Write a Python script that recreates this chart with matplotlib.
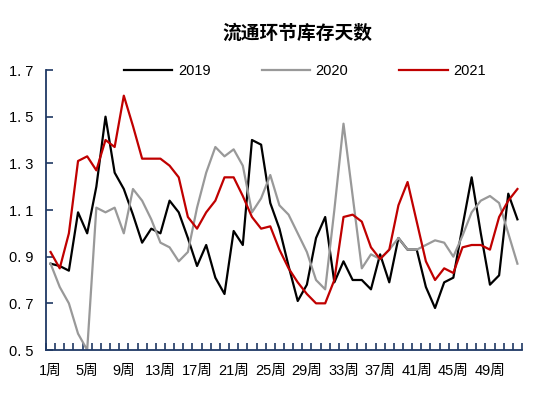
import matplotlib
matplotlib.use("Agg")
import matplotlib.pyplot as plt
import numpy as np

plt.rcParams['font.family'] = ['Liberation Sans', 'Noto Sans CJK SC', 'DejaVu Sans']

title = '流通环节库存天数'
weeks = np.arange(1, 53)

s2019 = [0.87, 0.86, 0.84, 1.09, 1.00, 1.20, 1.50, 1.26, 1.19, 1.08,
         0.96, 1.02, 1.00, 1.14, 1.09, 0.98, 0.86, 0.95, 0.81, 0.74,
         1.01, 0.95, 1.40, 1.38, 1.13, 1.02, 0.86, 0.71, 0.78, 0.98,
         1.07, 0.79, 0.88, 0.80, 0.80, 0.76, 0.91, 0.79, 0.98, 0.93,
         0.93, 0.77, 0.68, 0.79, 0.81, 1.03, 1.24, 1.00, 0.78, 0.82,
         1.17, 1.06]
s2020 = [0.87, 0.77, 0.70, 0.57, 0.50, 1.11, 1.09, 1.11, 1.00, 1.19,
         1.14, 1.06, 0.96, 0.94, 0.88, 0.92, 1.11, 1.26, 1.37, 1.33,
         1.36, 1.29, 1.09, 1.15, 1.25, 1.12, 1.08, 1.00, 0.92, 0.80,
         0.76, 1.10, 1.47, 1.16, 0.85, 0.91, 0.89, 0.93, 0.98, 0.93,
         0.93, 0.95, 0.97, 0.96, 0.90, 0.99, 1.09, 1.14, 1.16, 1.13,
         1.00, 0.87]
s2021 = [0.92, 0.85, 1.00, 1.31, 1.33, 1.27, 1.40, 1.37, 1.59, 1.46,
         1.32, 1.32, 1.32, 1.29, 1.24, 1.07, 1.02, 1.09, 1.14, 1.24,
         1.24, 1.16, 1.07, 1.02, 1.03, 0.93, 0.85, 0.79, 0.74, 0.70,
         0.70, 0.80, 1.07, 1.08, 1.05, 0.94, 0.89, 0.93, 1.12, 1.22,
         1.05, 0.88, 0.80, 0.85, 0.83, 0.94, 0.95, 0.95, 0.93, 1.07,
         1.14, 1.19]

series = [('2019', s2019, '#000000'),
          ('2020', s2020, '#999999'),
          ('2021', s2021, '#c00000')]

yticks = [0.5, 0.7, 0.9, 1.1, 1.3, 1.5, 1.7]
label_weeks = list(range(1, 53, 4))

axis_col = '#1f3864'

fig = plt.figure(figsize=(5.5, 3.96), dpi=100)
ax = fig.add_axes([46/550, 1-350/396, 476/550, 280/396])

for name, vals, col in series:
    ax.plot(weeks, vals, color=col, lw=1.6, label=name)

ax.set_xlim(0.5, 52.5)
ax.set_ylim(0.5, 1.7)

for side in ['top', 'right']:
    ax.spines[side].set_visible(False)
for side in ['left', 'bottom']:
    ax.spines[side].set_color(axis_col)
    ax.spines[side].set_linewidth(1.3)

ax.set_yticks(yticks)
ax.set_yticklabels([f'{v:.1f}'.replace('.', '. ') for v in yticks], fontsize=10.5)
ax.tick_params(axis='y', direction='in', length=5, width=1.2, color=axis_col, pad=9)

# tick marks at week boundaries, labels every 4 weeks
ax.set_xticks(np.arange(0.5, 53, 1))
ax.set_xticklabels([])
ax.set_xticks(label_weeks, minor=True)
ax.set_xticklabels([f'{w}周' for w in label_weeks], minor=True, fontsize=10.5)
ax.tick_params(axis='x', which='major', direction='in', length=5, width=1.2, color=axis_col)
ax.tick_params(axis='x', which='minor', length=0, pad=10)

fig.text(297/550, 1-33/396, title, ha='center', va='center', fontsize=13.5,
         fontweight='bold', family=['Noto Sans CJK SC', 'DejaVu Sans'])

fig.legend(loc='center', bbox_to_anchor=(305/550, 1-71/396), ncol=3, frameon=False,
           fontsize=10.5, handlelength=3.3, handletextpad=0.4, columnspacing=3.5)

fig.savefig('out.png', dpi=100)
